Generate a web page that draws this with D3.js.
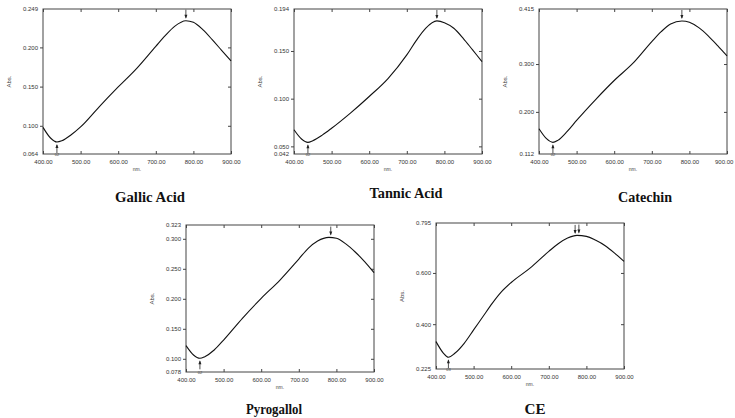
<!DOCTYPE html>
<html>
<head>
<meta charset="utf-8">
<script src="https://cdn.jsdelivr.net/npm/d3@7"></script>
<style>
  body { margin: 0; background: #fff; }
  .tick text { font-family: Arial, "Liberation Sans", sans-serif; font-size: 6px; fill: #333; }
  .frame { fill: none; stroke: #444; stroke-width: 1; }
  .trace { fill: none; stroke: #111; stroke-width: 1.1; }
  .lab { font-family: Arial, "Liberation Sans", sans-serif; font-size: 6px; fill: #444; }
  .title { font-family: "Liberation Serif", "Times New Roman", serif; font-weight: bold; font-size: 15px; fill: #111; }
</style>
</head>
<body>
<div id="chart"></div>
<script>

// wavelengths (nm) shared by all spectra
var wavelengths = [400, 420, 437, 450, 475, 500, 550, 600, 650, 700, 725, 750, 780, 800, 825, 850, 875, 900];
var ce_wavelengths = [400, 420, 433, 450, 475, 500, 525, 550, 575, 600, 650, 700, 725, 750, 775, 800, 825, 850, 875, 900];

// absorbance
var gallic_abs = [0.098, 0.0844, 0.0793, 0.0808, 0.0885, 0.0985, 0.1245, 0.1495, 0.1737, 0.2014, 0.215, 0.2269, 0.2341, 0.232, 0.2226, 0.2099, 0.1963, 0.1827];
var tannic_abs = [0.0674, 0.0577, 0.0542, 0.0560, 0.0618, 0.0690, 0.0849, 0.1023, 0.1211, 0.1459, 0.1609, 0.1738, 0.1815, 0.1797, 0.1738, 0.1633, 0.1511, 0.1389];
var catechin_abs = [0.1648, 0.144, 0.1363, 0.1405, 0.1592, 0.1822, 0.2253, 0.2656, 0.3017, 0.3469, 0.3677, 0.3837, 0.39, 0.3872, 0.376, 0.359, 0.3385, 0.317];
var pyrogallol_abs = [0.1219, 0.1063, 0.1008, 0.1036, 0.1147, 0.1313, 0.1675, 0.2008, 0.2313, 0.2663, 0.2841, 0.2963, 0.3024, 0.3008, 0.2915, 0.278, 0.262, 0.2436];
var ce_abs = [0.332, 0.2863, 0.2707, 0.2863, 0.3254, 0.3776, 0.4298, 0.482, 0.5276, 0.5628, 0.6189, 0.6841, 0.7141, 0.7363, 0.7467, 0.7428, 0.7272, 0.7063, 0.6776, 0.645];

// y ranges and tick labels as printed by the instrument
var gallic_range = [0.064, 0.249], gallic_ticks = [0.064, 0.100, 0.150, 0.200, 0.249];
var tannic_range = [0.042, 0.194], tannic_ticks = [0.042, 0.050, 0.100, 0.150, 0.194];
var catechin_range = [0.112, 0.415], catechin_ticks = [0.112, 0.200, 0.300, 0.415];
var pyrogallol_range = [0.078, 0.323], pyrogallol_ticks = [0.078, 0.100, 0.150, 0.200, 0.250, 0.300, 0.323];
var ce_range = [0.225, 0.795], ce_ticks = [0.225, 0.400, 0.600, 0.795];

var x_ticks = [400, 500, 600, 700, 800, 900];

// marked peaks / valleys (nm)
var gallic_marks = { min: 437, max: [780] };
var tannic_marks = { min: 437, max: [780] };
var catechin_marks = { min: 437, max: [780] };
var pyrogallol_marks = { min: 437, max: [785] };
var ce_marks = { min: 433, max: [770, 780] };

var panels = [
  { name: "Gallic Acid", x: wavelengths, y: gallic_abs, range: gallic_range, ticks: gallic_ticks, marks: gallic_marks,
    box: [43, 9, 231, 154], title: [150, 202, 70] },
  { name: "Tannic Acid", x: wavelengths, y: tannic_abs, range: tannic_range, ticks: tannic_ticks, marks: tannic_marks,
    box: [294, 9, 482, 154], title: [406, 198, 73] },
  { name: "Catechin", x: wavelengths, y: catechin_abs, range: catechin_range, ticks: catechin_ticks, marks: catechin_marks,
    box: [539, 9, 727, 154], title: [645, 202, 54] },
  { name: "Pyrogallol", x: wavelengths, y: pyrogallol_abs, range: pyrogallol_range, ticks: pyrogallol_ticks, marks: pyrogallol_marks,
    box: [186, 225, 374, 372], title: [274, 414, 56] },
  { name: "CE", x: ce_wavelengths, y: ce_abs, range: ce_range, ticks: ce_ticks, marks: ce_marks,
    box: [436, 223, 624, 369], title: [535, 414, 21] }
];

var svg = d3.select("#chart").append("svg")
  .attr("width", 735)
  .attr("height", 418);

panels.forEach(function(p) {

  var left = p.box[0], top = p.box[1], right = p.box[2], bottom = p.box[3];

  var x = d3.scaleLinear().domain([400, 900]).range([left, right]);
  var y = d3.scaleLinear().domain(p.range).range([bottom, top]);

  var g = svg.append("g");

  //axes, ticks pointing inward except the left one
  g.append("g")
    .attr("transform", "translate(0," + bottom + ")")
    .call(d3.axisBottom(x).tickValues(x_ticks).tickFormat(d3.format(".2f")).tickSizeInner(-3).tickSizeOuter(0).tickPadding(6))
    .call(function(a) {
      a.select(".domain").remove();
      a.selectAll("line").attr("stroke", "#444");
      // keep the last label inside the page
      a.selectAll(".tick text").each(function() {
        var b = this.getBoundingClientRect();
        if (b.right > 734) d3.select(this).attr("dx", (734 - b.right) + "px");
      });
    });

  g.append("g")
    .attr("transform", "translate(0," + top + ")")
    .call(d3.axisTop(x).tickValues(x_ticks).tickFormat("").tickSizeInner(-3).tickSizeOuter(0))
    .call(function(a) { a.select(".domain").remove(); a.selectAll("line").attr("stroke", "#444"); });

  g.append("g")
    .attr("transform", "translate(" + left + ",0)")
    .call(d3.axisLeft(y).tickValues(p.ticks).tickFormat(d3.format(".3f")).tickSizeInner(3).tickSizeOuter(0).tickPadding(2))
    .call(function(a) {
      a.select(".domain").remove();
      a.selectAll("line").attr("stroke", "#444");
      // end labels are printed without a tick mark
      a.selectAll(".tick").filter(function(d) { return d === p.range[0] || d === p.range[1]; })
        .select("line").remove();
    });

  g.append("g")
    .attr("transform", "translate(" + right + ",0)")
    .call(d3.axisRight(y).tickValues(p.ticks.filter(function(d) { return d !== p.range[0] && d !== p.range[1]; }))
      .tickFormat("").tickSizeInner(-3).tickSizeOuter(0))
    .call(function(a) { a.select(".domain").remove(); a.selectAll("line").attr("stroke", "#444"); });

  g.append("rect").attr("class", "frame")
    .attr("x", left).attr("y", top)
    .attr("width", right - left).attr("height", bottom - top);

  var pts = p.x.map(function(d, i) { return [d, p.y[i]]; });

  g.append("path").attr("class", "trace")
    .datum(pts)
    .attr("d", d3.line()
      .x(function(d) { return x(d[0]); })
      .y(function(d) { return y(d[1]); })
      .curve(d3.curveMonotoneX));

  var interp = function(w) {
    for (var i = 0; i < p.x.length - 1; i++) {
      if (w >= p.x[i] && w <= p.x[i + 1]) {
        var t = (w - p.x[i]) / (p.x[i + 1] - p.x[i]);
        return p.y[i] + t * (p.y[i + 1] - p.y[i]);
      }
    }
    return p.y[p.y.length - 1];
  };

  // valley arrow pointing up
  var vx = x(p.marks.min), vy = y(interp(p.marks.min));
  g.append("line").attr("x1", vx).attr("x2", vx).attr("y1", vy + 11).attr("y2", vy + 3)
    .attr("stroke", "#222").attr("stroke-width", 0.8);
  g.append("path").attr("d", "M" + (vx - 1.5) + "," + (vy + 6) + "L" + vx + "," + (vy + 2) + "L" + (vx + 1.5) + "," + (vy + 6) + "Z")
    .attr("fill", "#222");
  g.append("text").attr("class", "lab")
    .attr("x", vx).attr("y", bottom + 2).attr("text-anchor", "middle")
    .style("font-size", "4px")
    .text(p.marks.max.length > 1 ? "03" : "02");

  // peak arrows pointing down
  p.marks.max.forEach(function(w, i) {
    var px = x(w), py = y(interp(w));
    g.append("line").attr("x1", px).attr("x2", px).attr("y1", py - 11).attr("y2", py - 3)
      .attr("stroke", "#222").attr("stroke-width", 0.8);
    g.append("path").attr("d", "M" + (px - 1.5) + "," + (py - 6) + "L" + px + "," + (py - 2) + "L" + (px + 1.5) + "," + (py - 6) + "Z")
      .attr("fill", "#222");
  });

  g.append("text").attr("class", "lab")
    .attr("transform", "translate(" + (left - 32) + "," + ((top + bottom) / 2) + ") rotate(-90)")
    .attr("text-anchor", "middle")
    .text("Abs.");

  g.append("text").attr("class", "lab")
    .attr("x", (left + right) / 2).attr("y", bottom + 17)
    .attr("text-anchor", "middle")
    .style("font-size", "5px")
    .text("nm.");

  svg.append("text").attr("class", "title")
    .attr("x", p.title[0] - p.title[2] / 2).attr("y", p.title[1])
    .attr("textLength", p.title[2])
    .attr("lengthAdjust", "spacingAndGlyphs")
    .text(p.name);

});

</script>
</body>
</html>
